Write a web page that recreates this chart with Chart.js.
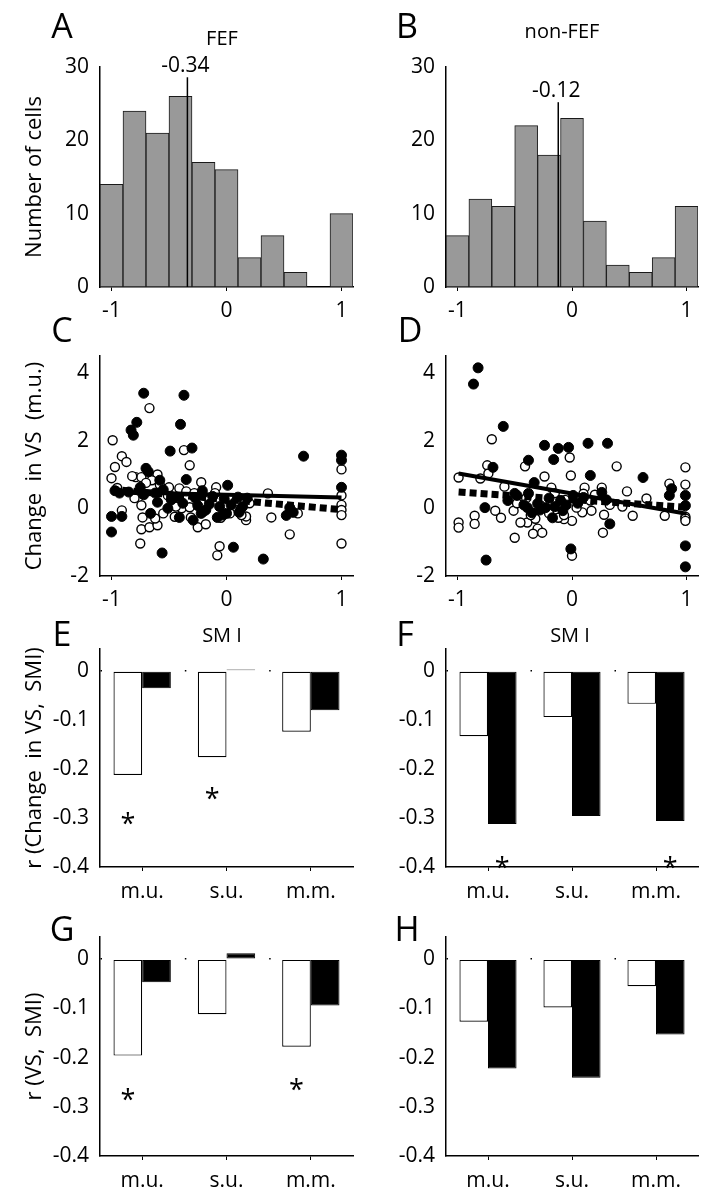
<!DOCTYPE html>
<html>
<head>
<meta charset="utf-8">
<script src="https://cdn.jsdelivr.net/npm/chart.js@4.4.1/dist/chart.umd.min.js"></script>
<style>
  body { margin: 0; background: #fff; }
  #page { position: relative; width: 705px; height: 1199px; font-family: 'Open Sans', sans-serif; color: #000; overflow: hidden; }
  #page canvas { position: absolute; }
  .lab { position: absolute; line-height: 1; transform: translate(-50%, -50%); white-space: pre; }
  .big { font-size: 34px; }
  .ttl { font-size: 20px; }
</style>
</head>
<body>
<div id="page">
  <canvas id="cA" width="360" height="330" style="left:0;top:0"></canvas>
  <canvas id="cB" width="345" height="330" style="left:360px;top:0"></canvas>
  <canvas id="cC" width="360" height="290" style="left:0;top:330px"></canvas>
  <canvas id="cD" width="345" height="290" style="left:360px;top:330px"></canvas>
  <canvas id="cE" width="360" height="290" style="left:0;top:620px"></canvas>
  <canvas id="cF" width="345" height="290" style="left:360px;top:620px"></canvas>
  <canvas id="cG" width="360" height="289" style="left:0;top:910px"></canvas>
  <canvas id="cH" width="345" height="289" style="left:360px;top:910px"></canvas>

  <div class="lab big" style="left:62px;top:25px">A</div>
  <div class="lab big" style="left:407px;top:25px">B</div>
  <div class="lab big" style="left:62px;top:329px">C</div>
  <div class="lab big" style="left:410px;top:329px">D</div>
  <div class="lab big" style="left:62px;top:633px">E</div>
  <div class="lab big" style="left:405px;top:633px">F</div>
  <div class="lab big" style="left:62px;top:928px">G</div>
  <div class="lab big" style="left:407px;top:928px">H</div>

  <div class="lab ttl" style="left:222px;top:38px">FEF</div>
  <div class="lab ttl" style="left:562px;top:31px">non-FEF</div>
  <div class="lab ttl" style="left:222px;top:635px">SM I</div>
  <div class="lab ttl" style="left:570px;top:635px">SM I</div>
</div>
<script>
// histogram of SMI (A, B)
const binCenters = [-1, -0.8, -0.6, -0.4, -0.2, 0, 0.2, 0.4, 0.6, 0.8, 1];
const countsFEF = [14, 24, 21, 26, 17, 16, 4, 7, 2, 0, 10];
const countsNonFEF = [7, 12, 11, 22, 18, 23, 9, 3, 2, 4, 11];
const meanFEF = [-0.34, 28.6];      // value, height of marker line
const meanNonFEF = [-0.12, 25.2];

// tick labels
const histTicks = [0, 10, 20, 30];
const smiTicks = [-1, 0, 1];
const vsTicks = [-2, 0, 2, 4];
const rTicks = [-0.4, -0.3, -0.2, -0.1, 0];
const groups = ['m.u.', 's.u.', 'm.m.'];

// change in VS vs SMI (C: FEF, D: non-FEF)
const fefOpen = [[-0.67,2.96],[-0.99,2.01],[-0.91,1.54],[-0.87,1.37],[-0.97,1.22],[-1.00,0.89],[-0.37,1.72],[-0.32,1.27],
  [-0.79,0.92],[-0.74,0.92],[-0.60,1.00],[-0.22,0.77],[-0.09,0.62],[-0.41,0.59],[-0.91,-0.06],[-0.74,0.09],[-0.73,-0.27],
  [-0.74,-0.62],[-0.67,-0.56],[-0.60,-0.50],[-0.75,-1.04],[-0.39,0.00],[-0.32,0.03],[-0.31,-0.27],[-0.25,-0.56],[-0.18,-0.47],
  [-0.08,-1.39],[-0.06,-1.12],[-0.51,0.38],[-0.65,0.83],[1.00,1.15],[1.00,0.38],[1.00,0.10],[1.00,-0.05],[1.00,-0.20],
  [1.00,-1.04],[0.36,0.44],[0.39,-0.27],[0.55,-0.77],[0.62,-0.15],[0.17,-0.35],[0.17,-0.24],[0.13,-0.20],[0.03,-0.15],
  [-0.58,0.70],[-0.70,0.75],[-0.55,-0.15],[-0.45,-0.25],[-0.62,-0.30],[-0.82,0.95],[-0.35,0.50],[-0.28,0.45],[-0.15,0.25],
  [-0.10,0.45],[-0.05,-0.28],[0.08,0.20],[0.12,-0.05],[0.20,0.15],[-0.44,0.05],[-0.20,-0.10],[-0.95,0.60],[-0.80,0.30],[-0.50,0.62]];
const fefFilled = [[-0.72,3.40],[-0.37,3.34],[-0.78,2.54],[-0.83,2.31],[-0.81,2.16],[-0.40,2.48],[-0.49,1.69],[-0.30,1.78],
  [-0.70,1.18],[-0.68,1.08],[-0.35,0.85],[-0.58,0.83],[-1.00,-0.24],[-0.91,-0.24],[-1.00,-0.70],[-0.56,-1.32],[-0.66,-0.15],
  [-0.60,0.18],[-0.51,0.00],[-0.41,-0.27],[-0.29,-0.35],[-0.22,-0.15],[-0.08,-0.27],[-0.03,-0.20],[0.01,0.68],[-0.44,0.33],
  [0.67,1.54],[1.00,1.57],[1.00,1.42],[1.00,0.62],[0.06,-1.15],[0.32,-1.50],[0.52,-0.21],[0.10,0.33],[0.18,0.30],[0.00,-0.15],
  [0.11,-0.12],[-0.97,0.52],[-0.93,0.45],[-0.85,0.48],[-0.75,0.62],[-0.72,0.40],[-0.62,0.45],[-0.55,0.55],[-0.48,0.25],
  [-0.38,0.15],[-0.27,0.30],[-0.21,0.52],[-0.15,0.12],[-0.12,0.35],[-0.06,0.05],[-0.02,0.28],[0.04,0.10],[0.14,0.05],
  [0.55,0.02],[0.58,-0.12],[-0.25,0.08],[-0.18,-0.05]];
const fefFitX = [-1, 1];
const fefSolid = [0.48, 0.32];
const fefSquares = [0.56, -0.04];

const nonOpen = [[-0.99,0.91],[-0.99,-0.42],[-0.99,-0.57],[-0.85,-0.22],[-0.85,-0.46],[-0.70,2.04],[-0.74,1.27],[-0.73,1.03],
  [-0.80,0.88],[-0.67,-0.07],[-0.62,-0.28],[-0.50,-0.87],[-0.51,-0.07],[-0.41,1.24],[-0.24,0.94],[-0.39,-0.42],[-0.32,-0.31],
  [-0.30,-0.60],[-0.34,-0.75],[-0.26,-0.72],[-0.59,0.64],[-0.02,1.50],[-0.01,0.97],[-0.18,0.61],[0.39,1.24],[0.99,1.21],
  [0.99,0.70],[0.99,-0.25],[0.99,-0.30],[0.99,-0.37],[0.85,0.73],[0.48,0.50],[0.65,0.29],[0.81,-0.22],[0.53,-0.22],[0.44,0.05],
  [0.26,0.61],[0.27,-0.72],[0.28,-0.19],[0.00,-0.37],[0.00,-1.40],[-0.07,-0.32],[0.11,0.61],[0.10,0.43],[0.16,0.23],[0.17,-0.07],
  [0.09,-0.12],[0.04,0.02],[-0.45,-0.42],[-0.40,0.30],[-0.28,0.10],[-0.20,-0.15],[-0.12,-0.28],[-0.06,0.25],[-0.48,0.15],
  [-0.15,0.45],[0.20,0.40],[0.33,0.10],[-0.36,-0.20],[-0.07,-0.20]];
const nonFilled = [[-0.82,4.15],[-0.86,3.67],[-0.60,2.42],[-0.24,1.86],[-0.12,1.77],[-0.03,1.80],[0.14,1.92],[0.31,1.92],
  [-0.38,1.42],[-0.16,1.44],[-0.69,1.21],[0.16,0.97],[0.62,0.91],[-0.76,0.02],[-0.75,-1.53],[-0.33,0.76],[-0.17,-0.28],
  [-0.01,-1.20],[0.33,-0.46],[0.99,-1.11],[0.99,-1.73],[0.87,0.58],[0.85,0.38],[0.99,0.38],[0.99,0.08],[0.01,0.38],[0.10,0.32],
  [0.26,0.47],[-0.56,0.23],[-0.48,0.38],[-0.39,0.02],[-0.35,-0.13],[-0.30,0.14],[-0.23,0.02],[-0.10,0.23],[-0.08,-0.07],
  [-0.38,0.44],[-0.50,0.44],[-0.28,-0.05],[-0.20,0.30],[-0.05,0.10],[0.05,0.15],[-0.42,0.10],[-0.15,0.05],[0.30,0.25]];
const nonFitX = [-0.99, 1];
const nonSolid = [1.03, -0.16];
const nonSquares = [0.48, 0.03];

// correlation r, open = first bar, filled = second bar
const eOpen = [-0.212, -0.176, -0.124];
const eFilled = [-0.035, 0.003, -0.080];
const fOpen = [-0.133, -0.094, -0.067];
const fFilled = [-0.312, -0.296, -0.306];
const gOpen = [-0.196, -0.112, -0.178];
const gFilled = [-0.047, 0.012, -0.094];
const hOpen = [-0.127, -0.098, -0.055];
const hFilled = [-0.222, -0.241, -0.153];
// significance stars: [dataset, group, r position]
const eStars = [[0, 0, -0.30], [0, 1, -0.25]];
const fStars = [[1, 0, -0.39], [1, 2, -0.39]];
const gStars = [[0, 0, -0.275], [0, 2, -0.255]];
const hStars = [];

Chart.defaults.font.family = "'Open Sans', sans-serif";
Chart.defaults.font.size = 21;
Chart.defaults.color = '#000';
Chart.defaults.animation = false;
Chart.defaults.responsive = false;
Chart.defaults.devicePixelRatio = 1;
Chart.defaults.plugins.legend.display = false;
Chart.defaults.plugins.tooltip.enabled = false;

const setTicks = vals => s => { s.ticks = vals.map(v => ({ value: v })); };
const pts = arr => arr.map(p => ({ x: p[0], y: p[1] }));
const fit = (xs, ys) => xs.map((x, i) => ({ x: x, y: ys[i] }));

function yScale(min, max, ticks, title, width) {
  return {
    min: min, max: max,
    afterBuildTicks: setTicks(ticks),
    afterFit: s => { s.width = width; },
    grid: { display: false, drawTicks: false },
    border: { color: '#000', width: 1.5 },
    ticks: { padding: 11, callback: v => String(v) },
    title: { display: !!title, text: title || '', font: { size: 22 }, padding: { top: 22, bottom: 0 } }
  };
}

function xLinear(height) {
  return {
    type: 'linear', min: -1.1, max: 1.1, offset: false,
    afterBuildTicks: setTicks(smiTicks),
    afterFit: s => { s.height = height; },
    grid: { display: true, drawOnChartArea: false, drawTicks: true, tickLength: 4, tickColor: '#000', offset: false },
    border: { color: '#000', width: 1.5 },
    ticks: { padding: 7, maxRotation: 0, callback: v => String(v) }
  };
}

const meanLabel = m => ({
  id: 'meanLabel',
  afterDatasetsDraw(chart) {
    const { ctx, scales: { x, y } } = chart;
    ctx.save();
    ctx.font = "21px 'Open Sans'";
    ctx.fillStyle = '#000';
    ctx.textAlign = 'center';
    ctx.textBaseline = 'alphabetic';
    ctx.fillText(m[0].toFixed(2), x.getPixelForValue(m[0]) - 2, y.getPixelForValue(m[1]) - 5);
    ctx.restore();
  }
});

function histogram(id, counts, mean, title, yWidth, padRight) {
  return new Chart(document.getElementById(id), {
    type: 'bar',
    data: {
      datasets: [
        { type: 'line', order: 0, data: fit([mean[0], mean[0]], [0, mean[1]]), borderColor: '#000', borderWidth: 1.5, pointRadius: 0 },
        { type: 'bar', order: 1, data: fit(binCenters, counts), backgroundColor: '#999999', borderColor: '#1a1a1a',
          borderWidth: 1, borderSkipped: false, categoryPercentage: 1, barPercentage: 1 }
      ]
    },
    options: {
      layout: { padding: { top: 67, right: padRight, left: 0, bottom: 0 } },
      scales: { x: xLinear(43), y: yScale(0, 30, histTicks, title, yWidth) }
    },
    plugins: [meanLabel(mean)]
  });
}

function scatter(id, open, filled, fitX, solid, squares, title, yWidth, padRight) {
  return new Chart(document.getElementById(id), {
    type: 'scatter',
    data: {
      datasets: [
        { type: 'line', data: fit(fitX, solid), borderColor: '#000', borderWidth: 4, pointRadius: 0, showLine: true },
        { type: 'line', data: fit(fitX, squares), borderColor: '#000', borderWidth: 7, borderDash: [7, 4],
          borderCapStyle: 'butt', pointRadius: 0, showLine: true },
        { data: pts(filled), pointRadius: 5, backgroundColor: '#000', borderColor: '#000', borderWidth: 1 },
        { data: pts(open), pointRadius: 4.5, backgroundColor: '#fff', borderColor: '#000', borderWidth: 1.4 }
      ]
    },
    options: {
      layout: { padding: { top: 26, right: padRight, left: 0, bottom: 0 } },
      scales: { x: xLinear(44), y: yScale(-2, 4.5, vsTicks, title, yWidth) }
    }
  });
}

const starMarks = marks => ({
  id: 'starMarks',
  afterDatasetsDraw(chart) {
    const { ctx, scales: { y } } = chart;
    ctx.save();
    ctx.font = "27px 'Open Sans'";
    ctx.fillStyle = '#000';
    ctx.textAlign = 'center';
    ctx.textBaseline = 'alphabetic';
    const m = ctx.measureText('*');
    const mid = (m.actualBoundingBoxAscent - m.actualBoundingBoxDescent) / 2;
    marks.forEach(([ds, i, v]) => {
      const bar = chart.getDatasetMeta(ds).data[i];
      ctx.fillText('*', bar.x, y.getPixelForValue(v) + mid);
    });
    ctx.restore();
  }
});

function rBars(id, open, filled, stars, title, top, yWidth, padRight) {
  const y = yScale(-0.4, 0.045, rTicks, title, yWidth);
  y.grid = {
    display: true, drawTicks: false, lineWidth: 1.5,
    color: c => (c.tick && c.tick.value === 0 ? '#000' : 'rgba(0,0,0,0)')
  };
  y.border = {
    color: '#000', width: 1.5,
    dash: c => { const w = c.chart.chartArea ? c.chart.chartArea.width / 3 : 84; return [1.5, w - 1.5]; }
  };
  return new Chart(document.getElementById(id), {
    type: 'bar',
    data: {
      labels: groups,
      datasets: [
        { data: open, backgroundColor: '#fff', borderColor: '#000', borderWidth: 1.2, borderSkipped: false },
        { data: filled, backgroundColor: '#000', borderColor: '#000', borderWidth: 1, borderSkipped: false }
      ]
    },
    options: {
      datasets: { bar: { categoryPercentage: 0.68, barPercentage: 1 } },
      layout: { padding: { top: top, right: padRight, left: 0, bottom: 0 } },
      scales: {
        x: {
          offset: true,
          afterFit: s => { s.height = 43; },
          grid: { display: true, offset: false, drawOnChartArea: false, tickLength: 4, tickColor: '#000' },
          border: { color: '#000', width: 1.5 },
          ticks: { padding: 8 }
        },
        y: y
      }
    },
    plugins: [starMarks(stars)]
  });
}

histogram('cA', countsFEF, meanFEF, 'Number of cells', 100, 7);
histogram('cB', countsNonFEF, meanNonFEF, null, 86, 7);
scatter('cC', fefOpen, fefFilled, fefFitX, fefSolid, fefSquares, 'Change  in VS  (m.u.)', 100, 7);
scatter('cD', nonOpen, nonFilled, nonFitX, nonSolid, nonSquares, null, 86, 7);
rBars('cE', eOpen, eFilled, eStars, 'r (Change  in VS,  SMI)', 29, 100, 7);
rBars('cF', fOpen, fFilled, fStars, null, 29, 86, 7);
rBars('cG', gOpen, gFilled, gStars, 'r (VS,  SMI)', 27, 100, 7);
rBars('cH', hOpen, hFilled, hStars, null, 27, 86, 7);
</script>
</body>
</html>
